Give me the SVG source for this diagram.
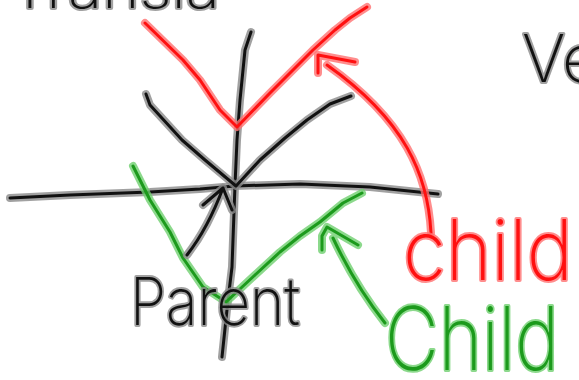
<svg xmlns="http://www.w3.org/2000/svg" xmlns:xlink="http://www.w3.org/1999/xlink" width="579" height="380" viewBox="0 0 579 380">
<style>
  .stroke { fill: none; stroke-linecap: round; stroke-linejoin: round; }
  .hk { stroke: #8a8a8a; stroke-opacity: 0.8; stroke-width: 8; }
  .ck { stroke: #111; stroke-width: 3; }
  .hr { stroke: #ff7070; stroke-opacity: 0.8; stroke-width: 8; }
  .cr { stroke: #ff1010; stroke-width: 3; }
  .hg { stroke: #6fcf6f; stroke-opacity: 0.8; stroke-width: 8; }
  .cg { stroke: #1c9a1c; stroke-width: 3; }
  .txt { font-family: Inter, "Liberation Sans", "DejaVu Sans", sans-serif; font-weight: 200; paint-order: stroke; stroke-linejoin: round; stroke-linecap: round; }
  .tk { fill: #111; stroke: #8a8a8a; stroke-opacity: 0.8; stroke-width: 4; }
  .tr { fill: #ff1010; stroke: #ff7070; stroke-opacity: 0.8; stroke-width: 4; }
  .tg { fill: #1c9a1c; stroke: #6fcf6f; stroke-opacity: 0.8; stroke-width: 4; }
</style>
<defs>
  <path id="vaxis" d="M251,32 L245,50 L240,100 L237,140 L235,185 L232,267 L228,300 L222,357"/>
  <path id="haxis" d="M10,198 L70,195 L150,192 L200,189 L235,186 L300,184 L370,187 L438,194"/>
  <path id="parentV" d="M146,94 L150,105 L182,140 L205,160 L236,186 L260,160 L285,138 L307,120 L330,104 L351,96"/>
  <path id="redV" d="M145,23 L183,60 L200,80 L220,110 L237,127 L270,93 L313,50 L335,30 L350,18 L367,7"/>
  <path id="greenV" d="M133,166 L150,200 L170,232 L183,258 L203,287 L226,302 L255,275 L280,252 L300,236 L320,222 L343,203 L362,193"/>
  <path id="redArrow" d="M431,233 C428,175 405,120 327,65 M318,73 L318,55 L355,62"/>
  <path id="greenArrow" d="M385,323 Q355,285 333,238 M322,250 L322,236 L327,227 L358,245"/>
  <path id="blackArrow" d="M187,255 Q208,228 223,188 M203,205 L223,188 L232,210"/>
</defs>
<g id="axes">
  <use xlink:href="#vaxis" class="stroke hk"/>
  <use xlink:href="#haxis" class="stroke hk"/>
  <use xlink:href="#vaxis" class="stroke ck"/>
  <use xlink:href="#haxis" class="stroke ck"/>
</g>
<g id="parent-graph">
  <use xlink:href="#parentV" class="stroke hk"/>
  <use xlink:href="#parentV" class="stroke ck"/>
</g>
<g id="red-child-graph">
  <use xlink:href="#redV" class="stroke hr"/>
  <use xlink:href="#redV" class="stroke cr"/>
</g>
<g id="green-child-graph">
  <use xlink:href="#greenV" class="stroke hg"/>
  <use xlink:href="#greenV" class="stroke cg"/>
</g>
<g id="connectors">
  <use xlink:href="#redArrow" class="stroke hr"/>
  <use xlink:href="#redArrow" class="stroke cr"/>
  <use xlink:href="#greenArrow" class="stroke hg"/>
  <use xlink:href="#greenArrow" class="stroke cg"/>
  <use xlink:href="#blackArrow" class="stroke hk"/>
  <use xlink:href="#blackArrow" class="stroke ck"/>
</g>
<g id="label-title">
  <text class="txt tk" x="10" y="8" font-size="54" textLength="210" lengthAdjust="spacingAndGlyphs">Transla</text>
</g>
<g id="label-vertex">
  <text class="txt tk" x="522" y="82" font-size="66">Ve</text>
</g>
<g id="label-parent">
  <text class="txt tk" x="130" y="325" font-size="66" textLength="170" lengthAdjust="spacingAndGlyphs">Parent</text>
</g>
<g id="label-child-red">
  <text class="txt tr" x="403" y="280" font-size="84" textLength="170" lengthAdjust="spacingAndGlyphs">child</text>
</g>
<g id="label-child-green">
  <text class="txt tg" x="385" y="370" font-size="88" textLength="174" lengthAdjust="spacingAndGlyphs">Child</text>
</g>
</svg>
